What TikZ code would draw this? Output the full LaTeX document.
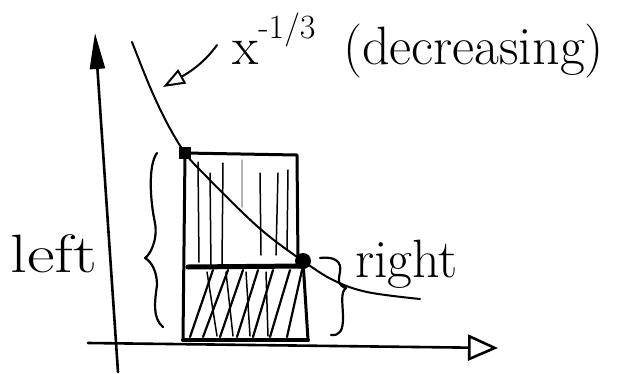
\documentclass[tikz,border=0pt]{standalone}
\usetikzlibrary{arrows.meta}
\begin{document}
\begin{tikzpicture}[x=1pt,y=-1pt,line cap=round,line join=round,
  axis/.style={line width=2.6pt},
  ink/.style={line width=2pt},
  frame/.style={line width=3pt},
  hatch/.style={line width=1.5pt},
  dhatch/.style={line width=2.2pt},
  lbl/.style={font=\fontsize{54}{60}\selectfont,inner sep=0pt,anchor=base west}]
\useasboundingbox (0,0) rectangle (619,373);
% axes
\coordinate (ybot) at (118,372);
\coordinate (ytop) at (95,33);
\coordinate (xleft) at (88,343);
\coordinate (xright) at (498,348);
\draw[axis,-{Triangle[length=36pt,width=15pt]}] (ybot) -- (ytop);
\draw[axis,-{Triangle[open,length=30pt,width=26pt,line width=2.6pt]}] (xleft) -- (xright);
% key points
\coordinate (P) at (185,153);
\coordinate (Q) at (303,261);
\coordinate (TR) at (297,155);
\coordinate (MR) at (298,262);
\coordinate (BL) at (183,340);
\coordinate (BR) at (308,340);
\coordinate (ML) at (188,267);
\coordinate (MQ) at (303,266);
% hatching upper (vertical)
\foreach \a/\b/\c/\d in {198/162/199/262, 210/173/211/268, 223/163/222/265, 260/173/261/255, 278/173/276/255, 288/170/287/250}
  \draw[hatch] (\a,\b) -- (\c,\d);
\draw[hatch,black!30] (242,160) -- (242,207);
% hatching lower (diagonal)
\foreach \a/\b in {190/213, 203/228, 220/243, 237/258, 253/273, 270/290, 287/302}
  \draw[dhatch] (\a,337) -- (\b,270);
\foreach \a/\b in {207/217, 226/233, 246/250, 266/268}
  \draw[hatch] (\a,272) -- (\b,336);
% rectangles
\draw[frame] (P) -- (TR) -- (MR);
\draw[frame] (P) -- (BL);
\draw[line width=5pt] (ML) -- (MQ);
\draw[frame] (Q) -- (BR);
\draw[line width=4pt] (BL) -- (BR);
% curve
\draw[ink] plot[smooth,tension=0.6] coordinates {(132,42) (150,87) (167,123) (185,153) (203,173) (243,213) (270,237) (303,261) (333,280) (367,292) (420,299)};
% markers
\fill (P) ++(-6,-6) rectangle ++(12,12);
\fill (Q) circle (8);
% braces
\draw[ink,line width=2.2pt] (157,153) .. controls (148,165) and (150,200) .. (155,223)
  .. controls (158,240) and (150,255) .. (145,258)
  .. controls (152,262) and (157,272) .. (157,285)
  .. controls (155,300) and (152,318) .. (163,327);
\draw[ink,line width=2.2pt] (320,258) .. controls (335,256) and (342,262) .. (340,272)
  .. controls (338,282) and (338,285) .. (346,288)
  .. controls (340,292) and (343,305) .. (343,318)
  .. controls (343,330) and (340,336) .. (331,335);
% labels
\node[lbl] (xlbl) at (232,64) {x\raisebox{26pt}{\fontsize{34}{36}\selectfont -1/3}};
\node[lbl] (declbl) at (343,64) {(decreasing)};
\node[lbl,xscale=1.25] (leftlbl) at (10,272) {left};
\node[lbl] (rightlbl) at (355,277) {right};
% pointer arrow
\coordinate (arrS) at (217,45);
\coordinate (arrE) at (163,87);
\draw[ink,-{Triangle[open,length=22pt,width=16pt,line width=2pt]}] (arrS) .. controls (205,62) and (190,72) .. (arrE);
\end{tikzpicture}
\end{document}
